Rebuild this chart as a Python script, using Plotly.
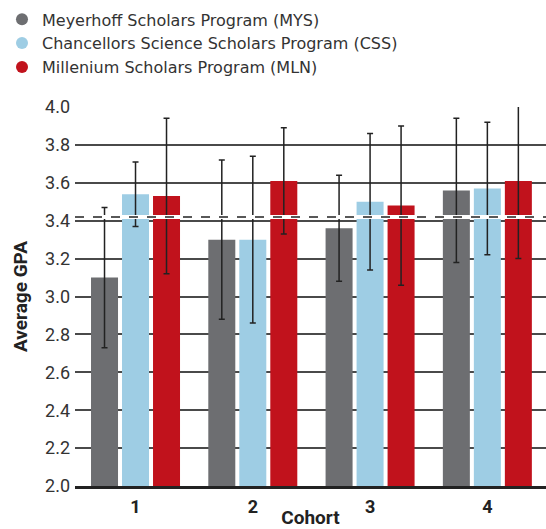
import plotly.graph_objects as go

cohorts = ["1", "2", "3", "4"]
programs = ["Meyerhoff Scholars Program (MYS)",
            "Chancellors Science Scholars Program (CSS)",
            "Millenium Scholars Program (MLN)"]
mys = [3.10, 3.30, 3.36, 3.56]
mys_err = [0.37, 0.42, 0.28, 0.38]
css = [3.54, 3.30, 3.50, 3.57]
css_err = [0.17, 0.44, 0.36, 0.35]
mln = [3.53, 3.61, 3.48, 3.61]
mln_err = [0.41, 0.28, 0.42, 0.41]
overall_mean = 3.42
colors = ["#6d6e71", "#9ecde4", "#c1121c"]

FONT = "Roboto, sans-serif"
LEGFONT = "DejaVu Sans, sans-serif"

fig = go.Figure()
for name, vals, errs, col in zip(programs, [mys, css, mln], [mys_err, css_err, mln_err], colors):
    fig.add_trace(go.Bar(
        x=cohorts, y=vals, name=name, marker_color=col, marker_line_width=0,
        showlegend=False, cliponaxis=False,
        error_y=dict(type="data", array=errs, visible=True, color="#222222",
                     thickness=1.5, width=3),
    ))
for name, col in zip(programs, colors):
    fig.add_trace(go.Scatter(
        x=[None], y=[None], mode="markers", name=name,
        marker=dict(symbol="circle", size=14, color=col),
    ))

# mean line: white under-stroke plus dark dashes
fig.add_shape(type="line", xref="paper", yref="y", x0=0, x1=1,
              y0=overall_mean, y1=overall_mean,
              line=dict(color="white", width=4), layer="above")
fig.add_shape(type="line", xref="paper", yref="y", x0=0, x1=1,
              y0=overall_mean, y1=overall_mean,
              line=dict(color="#222222", width=1.5, dash="dash"), layer="above")

fig.update_layout(
    width=546, height=529,
    margin=dict(l=75, r=0, t=107, b=43, autoexpand=False),
    paper_bgcolor="white", plot_bgcolor="white",
    barmode="group", bargap=0.207, bargroupgap=0.129,
    font=dict(family=FONT, size=18, color="#222222"),
    legend=dict(x=-0.155, y=1.276, xanchor="left", yanchor="top",
                font=dict(family=LEGFONT, size=16, color="#333333"),
                tracegroupgap=0, itemsizing="constant",
                bgcolor="rgba(0,0,0,0)"),
    xaxis=dict(range=[-0.516, 3.5], showgrid=False, showline=True,
               linecolor="#222222", linewidth=2.5, ticks="", automargin=False,
               ticklabelstandoff=3,
               tickfont=dict(family=FONT, size=18, color="#222222", weight="bold"),
               title=dict(text="<b>Cohort</b>", standoff=24,
                          font=dict(family=FONT, size=19, color="#222222"))),
    yaxis=dict(range=[2.0, 4.0], dtick=0.2, tickformat=".1f",
               showgrid=True, gridcolor="#4a4a4a", gridwidth=1.5,
               zeroline=False, showline=False, ticks="", automargin=False,
               ticklabelstandoff=4,
               tickfont=dict(family=FONT, size=18, color="#333333"),
               title=dict(text="<b>Average GPA</b>", standoff=12,
                          font=dict(family=FONT, size=19, color="#222222"))),
)

fig.write_html("out.html", config={"displayModeBar": False},
               post_script="document.body.style.margin='0';")
